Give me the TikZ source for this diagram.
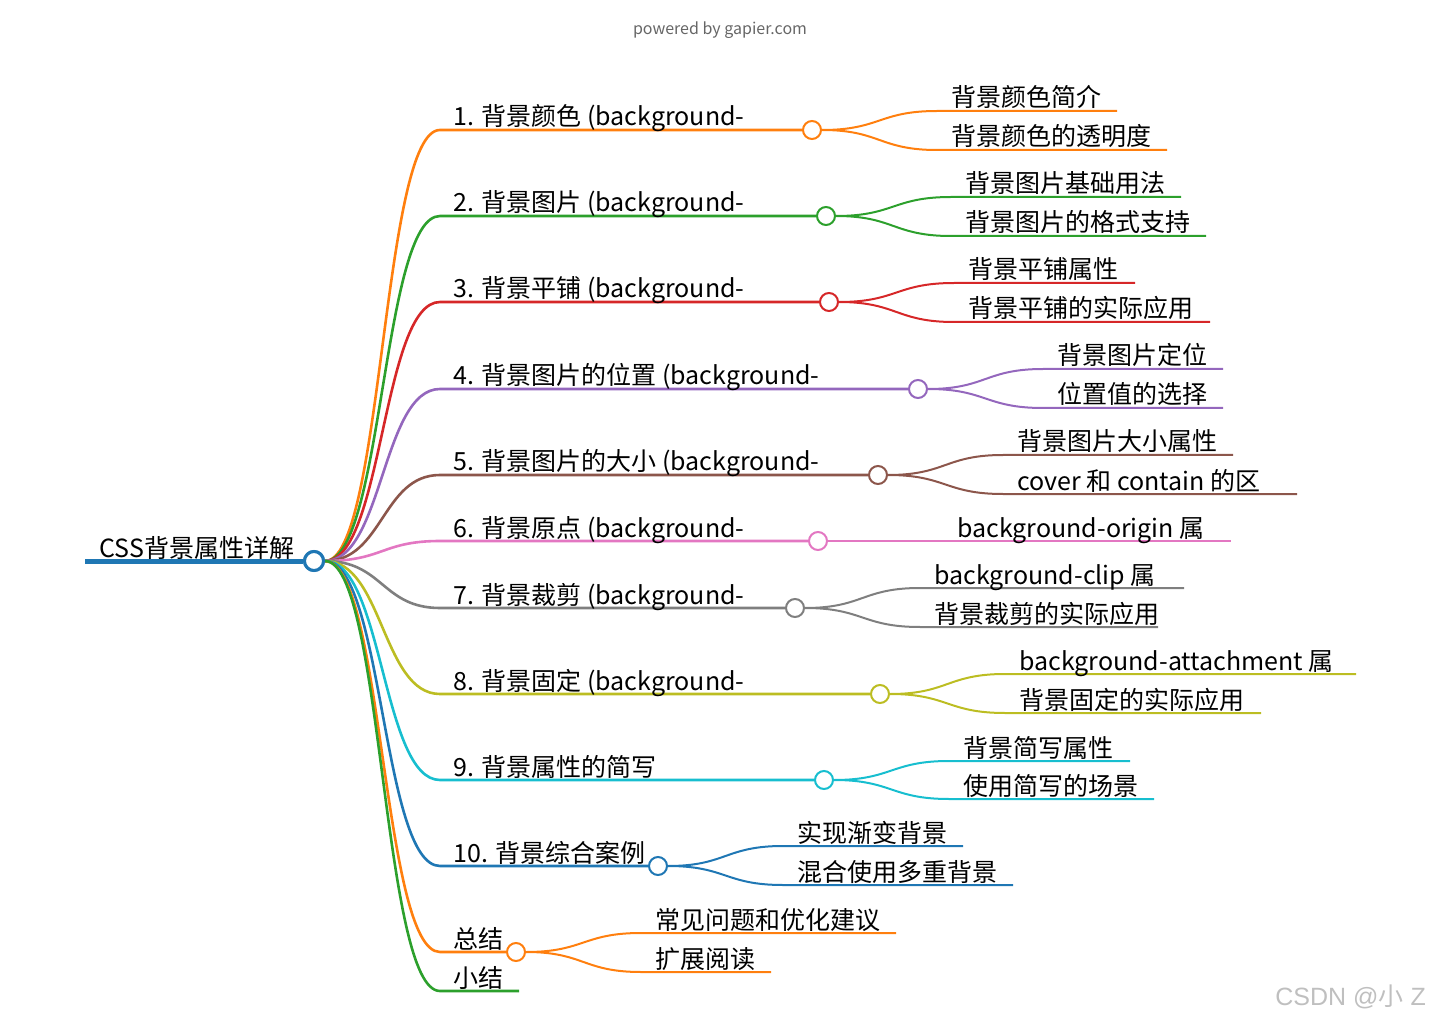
\documentclass[tikz,border=0pt]{standalone}
\usepackage{fontspec}
\setmainfont{Noto Sans CJK SC}
\newfontfamily\wmfont{Liberation Sans}
\definecolor{cO}{HTML}{FF7F0E}
\definecolor{cG}{HTML}{2CA02C}
\definecolor{cR}{HTML}{D62728}
\definecolor{cP}{HTML}{9467BD}
\definecolor{cB}{HTML}{8C564B}
\definecolor{cK}{HTML}{E377C2}
\definecolor{cY}{HTML}{7F7F7F}
\definecolor{cL}{HTML}{BCBD22}
\definecolor{cC}{HTML}{17BECF}
\definecolor{cU}{HTML}{1F77B4}
\tikzset{
  lbl/.style={anchor=base west, inner sep=0pt, font=\fontsize{12.5}{15}\selectfont},
  dot/.style={circle, draw, fill=white, line width=1pt, minimum size=9pt, inner sep=0pt},
  blink/.style={line width=1.3pt},
  clink/.style={line width=1pt},
}
\begin{document}
\begin{tikzpicture}[x=0.5pt,y=-0.5pt]
\useasboundingbox (0,0) rectangle (1440,1021);
% watermark
\node[font=\fontsize{8}{10}\selectfont, text=black!60, anchor=base] (wm) at (720,35) {powered by gapier.com};
% root
\coordinate (r0) at (85,561);
\node[lbl] (rt) at (99,557) {CSS背景属性详解};
\node[circle, draw=cU, fill=white, line width=1.5pt, minimum size=9.5pt, inner sep=0pt] (r) at (314,561) {};
\draw[cU, line width=2.5pt] (r0) -- (r.west);
% branches
\foreach \i/\y/\cx/\col/\txt in {
  1/130/812/cO/{1. 背景颜色 (background-},
  2/216/826/cG/{2. 背景图片 (background-},
  3/302/829/cR/{3. 背景平铺 (background-},
  4/389/918/cP/{4. 背景图片的位置 (background-},
  5/475/878/cB/{5. 背景图片的大小 (background-},
  6/541/818/cK/{6. 背景原点 (background-},
  7/608/795/cY/{7. 背景裁剪 (background-},
  8/694/880/cL/{8. 背景固定 (background-},
  9/780/824/cC/{9. 背景属性的简写},
  10/866/658/cU/{10. 背景综合案例},
  11/952/516/cO/{总结}}{
  \coordinate (b\i) at (440,\y);
  \node[dot, draw=\col] (c\i) at (\cx,\y) {};
  \draw[\col, blink] (r.east) .. controls +(58,0) and +(-58,0) .. (b\i) -- (c\i.west);
  \node[lbl] (t\i) at (453,\y-4) {\txt};
}
% branch 12 (no circle)
\coordinate (b12) at (440,991);
\coordinate (e12) at (519,991);
\draw[cG, blink] (r.east) .. controls +(58,0) and +(-58,0) .. (b12) -- (e12);
\node[lbl] (t12) at (453,987) {小结};
% redraw root circle on top
\node[circle, draw=cU, fill=white, line width=1.5pt, minimum size=9.5pt, inner sep=0pt] at (r) {};
% children
\foreach \pp/\cx/\cy/\xe/\col/\txt in {
  1/812/111/1117/cO/{背景颜色简介},
  1/812/150/1167/cO/{背景颜色的透明度},
  2/826/197/1181/cG/{背景图片基础用法},
  2/826/236/1206/cG/{背景图片的格式支持},
  3/829/283/1135/cR/{背景平铺属性},
  3/829/322/1210/cR/{背景平铺的实际应用},
  4/918/369/1223/cP/{背景图片定位},
  4/918/408/1223/cP/{位置值的选择},
  5/878/455/1233/cB/{背景图片大小属性},
  5/878/494/1297/cB/{cover 和 contain 的区},
  6/818/541/1231/cK/{background-origin 属},
  7/795/588/1184/cY/{background-clip 属},
  7/795/627/1158/cY/{背景裁剪的实际应用},
  8/880/674/1356/cL/{background-attachment 属},
  8/880/713/1261/cL/{背景固定的实际应用},
  9/824/761/1130/cC/{背景简写属性},
  9/824/799/1154/cC/{使用简写的场景},
  10/658/846/963/cU/{实现渐变背景},
  10/658/885/1013/cU/{混合使用多重背景},
  11/516/933/896/cO/{常见问题和优化建议},
  11/516/972/771/cO/{扩展阅读}}{
  \coordinate (s\pp-\cy) at (\cx+125,\cy);
  \coordinate (e\pp-\cy) at (\xe,\cy);
  \draw[\col, clink] (c\pp.east) .. controls +(58,0) and +(-58,0) .. (s\pp-\cy) -- (e\pp-\cy);
  \node[lbl] (k\pp-\cy) at (\cx+139,\cy-4) {\txt};
}
% CSDN watermark
\node[anchor=base west, inner sep=0pt, text=black!25, font=\fontsize{12.5}{15}\selectfont] (csdn) at (1275,1005) {{\wmfont CSDN @}小{\wmfont\ Z}};
\end{tikzpicture}
\end{document}
